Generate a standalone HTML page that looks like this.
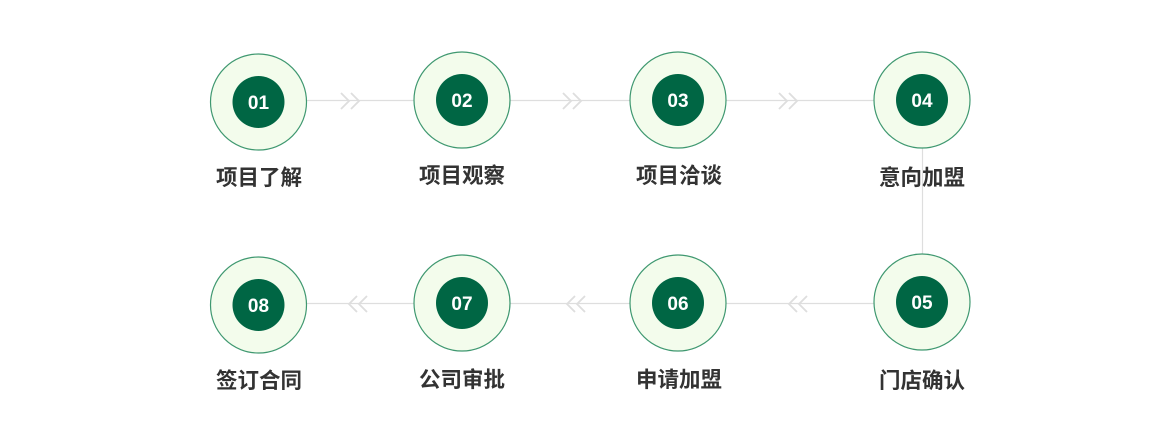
<!DOCTYPE html>
<html><head><meta charset="utf-8"><style>
html,body{margin:0;padding:0;background:#fff;}
svg{display:block;}
text.n{font-family:"Liberation Sans",sans-serif;font-weight:bold;font-size:19px;fill:#fff;}
text.l{font-family:"Liberation Sans","Noto Sans CJK SC",sans-serif;font-weight:bold;font-size:21.5px;fill:#333;}
</style></head><body>
<svg width="1159" height="442" viewBox="0 0 1159 442" xmlns="http://www.w3.org/2000/svg">
<g stroke="#dedede" stroke-width="1.2" fill="none">
<line x1="258" y1="100.5" x2="922" y2="100.5"/>
<line x1="258" y1="303.5" x2="922" y2="303.5"/>
<line x1="922.5" y1="100" x2="922.5" y2="303"/>
<path d="M341 93 L349 101 L341 109 M351 93 L359 101 L351 109" stroke-width="1.8"/>
<path d="M563 93 L571 101 L563 109 M573 93 L581 101 L573 109" stroke-width="1.8"/>
<path d="M779 93 L787 101 L779 109 M789 93 L797 101 L789 109" stroke-width="1.8"/>
<path d="M357 296 L349 304 L357 312 M367 296 L359 304 L367 312" stroke-width="1.8"/>
<path d="M575 296 L567 304 L575 312 M585 296 L577 304 L585 312" stroke-width="1.8"/>
<path d="M797 296 L789 304 L797 312 M807 296 L799 304 L807 312" stroke-width="1.8"/>
</g>
<g>
<circle cx="258.5" cy="102" r="48" fill="#f3fcec" stroke="#3f9870" stroke-width="1.2"/>
<circle cx="258.5" cy="102" r="26" fill="#006644"/>
<text class="n" x="258.5" y="109" text-anchor="middle">01</text>
<circle cx="462" cy="100" r="48" fill="#f3fcec" stroke="#3f9870" stroke-width="1.2"/>
<circle cx="462" cy="100" r="26" fill="#006644"/>
<text class="n" x="462" y="107" text-anchor="middle">02</text>
<circle cx="678" cy="100" r="48" fill="#f3fcec" stroke="#3f9870" stroke-width="1.2"/>
<circle cx="678" cy="100" r="26" fill="#006644"/>
<text class="n" x="678" y="107" text-anchor="middle">03</text>
<circle cx="922" cy="100" r="48" fill="#f3fcec" stroke="#3f9870" stroke-width="1.2"/>
<circle cx="922" cy="100" r="26" fill="#006644"/>
<text class="n" x="922" y="107" text-anchor="middle">04</text>

<circle cx="258.5" cy="305" r="48" fill="#f3fcec" stroke="#3f9870" stroke-width="1.2"/>
<circle cx="258.5" cy="305" r="26" fill="#006644"/>
<text class="n" x="258.5" y="312" text-anchor="middle">08</text>
<circle cx="462" cy="303" r="48" fill="#f3fcec" stroke="#3f9870" stroke-width="1.2"/>
<circle cx="462" cy="303" r="26" fill="#006644"/>
<text class="n" x="462" y="310" text-anchor="middle">07</text>
<circle cx="678" cy="303" r="48" fill="#f3fcec" stroke="#3f9870" stroke-width="1.2"/>
<circle cx="678" cy="303" r="26" fill="#006644"/>
<text class="n" x="678" y="310" text-anchor="middle">06</text>
<circle cx="922" cy="302" r="48" fill="#f3fcec" stroke="#3f9870" stroke-width="1.2"/>
<circle cx="922" cy="302" r="26" fill="#006644"/>
<text class="n" x="922" y="309" text-anchor="middle">05</text>
</g>
<g>
<text class="l" x="259" y="185" text-anchor="middle">项目了解</text>
<text class="l" x="462" y="183" text-anchor="middle">项目观察</text>
<text class="l" x="679" y="183" text-anchor="middle">项目洽谈</text>
<text class="l" x="922" y="185" text-anchor="middle">意向加盟</text>
<text class="l" x="259" y="388" text-anchor="middle">签订合同</text>
<text class="l" x="462" y="387" text-anchor="middle">公司审批</text>
<text class="l" x="679" y="387" text-anchor="middle">申请加盟</text>
<text class="l" x="922" y="388" text-anchor="middle">门店确认</text>
</g>
</svg>
</body></html>
